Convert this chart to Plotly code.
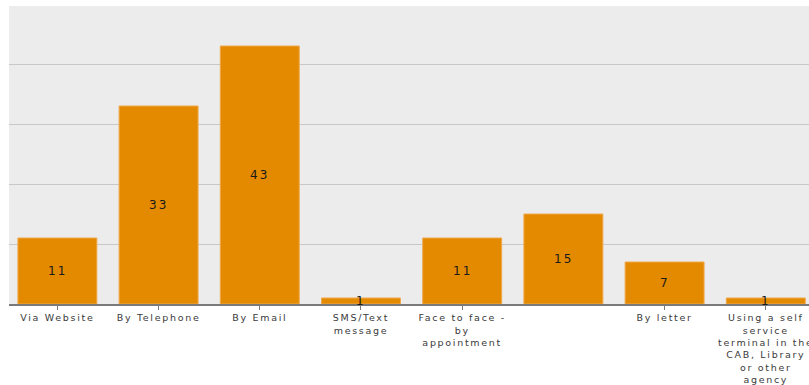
import plotly.graph_objects as go

categories = [
    "Via Website",
    "By Telephone",
    "By Email",
    "SMS/Text<br>message",
    "Face to face -<br>by<br>appointment",
    "",
    "By letter",
    "Using a self<br>service<br>terminal in the<br>CAB, Library<br>or other<br>agency",
]
values = [11, 33, 43, 1, 11, 15, 7, 1]

LS = "letter-spacing:1.7px"
xs = list(range(len(categories)))
tick_pos = [x for x, c in zip(xs, categories) if c]
tick_text = [f'<span style="{LS}">{c.replace("<br>", f"</span><br><span style=\"{LS}\">")}</span>'
             for c in categories if c]

fig = go.Figure()
fig.add_trace(go.Bar(
    x=xs, y=values,
    marker=dict(color="#E48A00", line=dict(color="#EFA84A", width=1)),
    width=0.78,
    hoverinfo="skip",
))

for x, v in zip(xs, values):
    fig.add_annotation(
        x=x, y=v / 2, text=f'<span style="letter-spacing:2px">{v}</span>',
        showarrow=False, xref="x", yref="y",
        font=dict(family="DejaVu Sans", size=12, color="#1a1a1a"),
    )

fig.update_layout(
    width=809, height=385,
    margin=dict(l=9, r=0, t=6, b=81, pad=0, autoexpand=False),
    paper_bgcolor="white",
    plot_bgcolor="#ECECEC",
    showlegend=False,
    font=dict(family="DejaVu Sans", size=9.5, color="#3a3a3a"),
)
fig.update_xaxes(
    range=[-0.478, 7.427],
    tickmode="array", tickvals=tick_pos, ticktext=tick_text,
    ticklabeloverflow="allow", automargin=False,
    showgrid=False, zeroline=False,
    showline=True, linecolor="#7a7a7a", linewidth=1.5,
    ticks="outside", ticklen=4, tickcolor="#7a7a7a", tickwidth=1,
    tickangle=0,
    tickfont=dict(family="DejaVu Sans", size=9.5, color="#3a3a3a"),
    fixedrange=True,
)
fig.update_yaxes(
    range=[0, 49.67], dtick=10, tick0=0,
    showgrid=True, gridcolor="#C8C8C8", gridwidth=1,
    zeroline=False, showticklabels=False, showline=False,
    automargin=False,
    fixedrange=True,
)

fig.write_html("out.html", config={"displayModeBar": False})
